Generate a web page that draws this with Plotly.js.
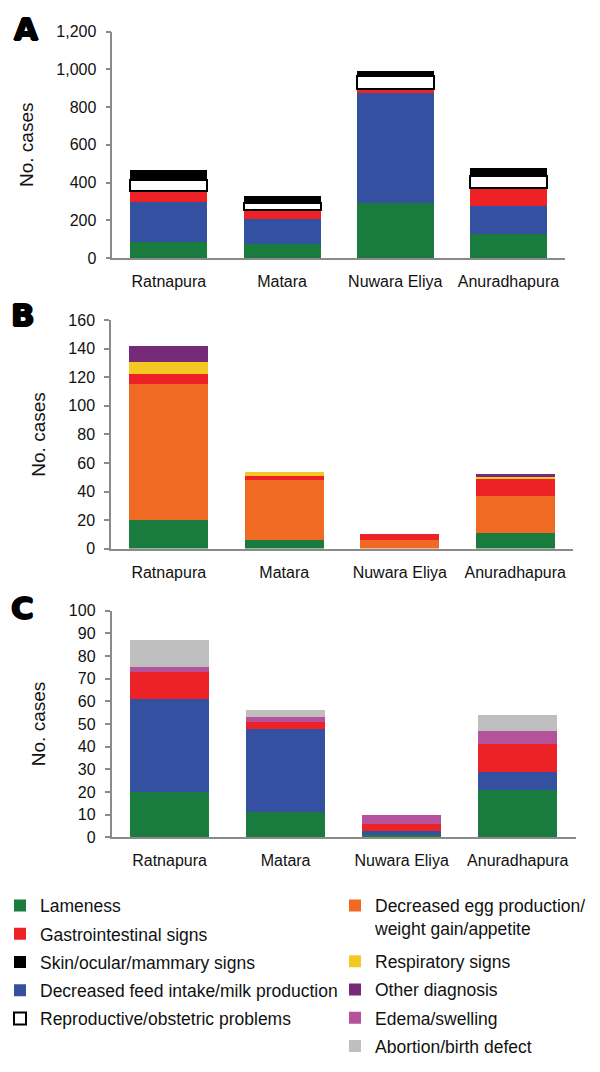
<!DOCTYPE html>
<html>
<head>
<meta charset="utf-8">
<script src="https://cdn.plot.ly/plotly-3.0.1.min.js"></script>
<style>html,body{margin:0;padding:0;background:#fff;}#chart{width:600px;height:1072px;}</style>
</head>
<body>
<div id="chart"></div>
<script>
// ---------- data ----------
const districts = ['Ratnapura', 'Matara', 'Nuwara Eliya', 'Anuradhapura'];

// Panel A
const aLameness     = [87, 73, 292, 129];
const aFeedMilk     = [209, 134, 585, 144];
const aGastro       = [61, 45, 21, 97];
const aReproductive = [57, 40, 66, 65];
const aSkin         = [54, 38, 26, 43];

// Panel B
const bLameness    = [20, 6, 0, 11];
const bEggWeight   = [95, 42, 6, 26];
const bGastro      = [7, 3, 4, 12];
const bRespiratory = [9, 3, 0, 1];
const bOther       = [11, 0, 0, 2];

// Panel C
const cLameness = [20, 11, 1, 21];
const cFeedMilk = [41, 37, 2, 8];
const cGastro   = [12, 3, 3, 12];
const cEdema    = [2, 2, 4, 6];
const cAbortion = [12, 3, 0, 7];

const panelLetters = ['A', 'B', 'C'];

const labels = {
  lame: 'Lameness',
  gi: 'Gastrointestinal signs',
  skin: 'Skin/ocular/mammary signs',
  feed: 'Decreased feed intake/milk production',
  repro: 'Reproductive/obstetric problems',
  egg: 'Decreased egg production/<br>weight gain/appetite',
  resp: 'Respiratory signs',
  other: 'Other diagnosis',
  edema: 'Edema/swelling',
  abort: 'Abortion/birth defect'
};
const colors = {
  lame: '#1a7b3f', gi: '#ec2227', skin: '#000000', feed: '#3450a1', repro: '#ffffff',
  egg: '#f16a24', resp: '#f5c924', other: '#762a78', edema: '#b4529c', abort: '#bfbfbf'
};

// ---------- traces ----------
function bar(key, y, xa, ya, legend, show, rank) {
  const t = {
    type: 'bar', x: districts, y: y, name: labels[key],
    xaxis: xa, yaxis: ya, legendgroup: key, legend: legend,
    showlegend: show, legendrank: rank,
    marker: {color: colors[key], line: {width: 0}},
    hovertemplate: '%{x}: %{y}<extra>' + labels[key].replace('<br>', ' ') + '</extra>'
  };
  if (key === 'repro') t.marker.line = {width: 2, color: '#000000'};
  return t;
}

const data = [
  bar('lame', aLameness, 'x', 'y', 'legend', true, 1),
  bar('feed', aFeedMilk, 'x', 'y', 'legend', true, 4),
  bar('gi', aGastro, 'x', 'y', 'legend', true, 2),
  bar('repro', aReproductive, 'x', 'y', 'legend', true, 5),
  bar('skin', aSkin, 'x', 'y', 'legend', true, 3),

  bar('lame', bLameness, 'x2', 'y2', 'legend', false, 1),
  bar('egg', bEggWeight, 'x2', 'y2', 'legend2', true, 1),
  bar('gi', bGastro, 'x2', 'y2', 'legend', false, 2),
  bar('resp', bRespiratory, 'x2', 'y2', 'legend3', true, 1),
  bar('other', bOther, 'x2', 'y2', 'legend3', true, 2),

  bar('lame', cLameness, 'x3', 'y3', 'legend', false, 1),
  bar('feed', cFeedMilk, 'x3', 'y3', 'legend', false, 4),
  bar('gi', cGastro, 'x3', 'y3', 'legend', false, 2),
  bar('edema', cEdema, 'x3', 'y3', 'legend3', true, 3),
  bar('abort', cAbortion, 'x3', 'y3', 'legend3', true, 4)
];

// ---------- layout ----------
const W = 600, H = 1072;
const px = v => v / W;
const py = v => 1 - v / H;
const FONT = '"Liberation Sans", Arial, Helvetica, sans-serif';
const axisColor = '#8a8a8a';

function xax(x0, x1) {
  return {
    domain: [px(x0), px(x1)],
    type: 'category', range: [-0.5, 3.5],
    showline: true, linecolor: axisColor, linewidth: 1.5,
    ticks: '', showgrid: false, zeroline: false,
    tickfont: {family: FONT, size: 16, color: '#111'},
    ticklabelstandoff: 8, fixedrange: true
  };
}
function yax(y0, y1, top, dtick, fmt) {
  return {
    domain: [py(y1), py(y0)], range: [0, top], dtick: dtick, tickformat: fmt,
    showline: true, linecolor: axisColor, linewidth: 1.5,
    ticks: 'outside', ticklen: 5, tickcolor: axisColor, tickwidth: 1.5,
    showgrid: false, zeroline: false,
    tickfont: {family: FONT, size: 16, color: '#111'},
    ticklabelstandoff: 6,
    title: {text: 'No. cases', font: {family: FONT, size: 19, color: '#111'}, standoff: 18},
    automargin: true, fixedrange: true
  };
}

const legendBase = {
  orientation: 'v', xanchor: 'left', yanchor: 'top',
  font: {family: FONT, size: 17.5, color: '#111'},
  bgcolor: 'rgba(0,0,0,0)', borderwidth: 0,
  traceorder: 'grouped', tracegroupgap: 2.5, valign: 'top'
};

const letterFont = {
  family: 'DejaVu Sans', size: 31, weight: 'bold', color: '#000',
  shadow: '0.9px 0 0 #000, -0.9px 0 0 #000, 0 0.9px 0 #000, 0 -0.9px 0 #000'
};
const letterPos = [[26, 21], [23, 312], [22.5, 610]];

const layout = {
  width: W, height: H,
  margin: {l: 0, r: 0, t: 0, b: 0, pad: 0},
  paper_bgcolor: '#ffffff', plot_bgcolor: '#ffffff',
  barmode: 'stack', bargap: 0.32,
  font: {family: FONT, color: '#111'},
  xaxis: Object.assign(xax(112.3, 565), {anchor: 'y'}),
  yaxis: Object.assign(yax(24, 254, 1200, 200, ',d'), {anchor: 'x'}),
  xaxis2: Object.assign(xax(111, 573), {anchor: 'y2'}),
  yaxis2: Object.assign(yax(317.3, 549.3, 160, 20, 'd'), {anchor: 'x2'}),
  xaxis3: Object.assign(xax(111.5, 575.8), {anchor: 'y3'}),
  yaxis3: Object.assign(yax(612.3, 842.7, 100, 10, 'd'), {anchor: 'x3'}),
  legend: Object.assign({}, legendBase, {x: px(0), y: py(893.8)}),
  legend2: Object.assign({}, legendBase, {x: px(335), y: py(893.8)}),
  legend3: Object.assign({}, legendBase, {x: px(335), y: py(950.4)}),
  annotations: panelLetters.map((t, i) => ({
    text: t, x: px(letterPos[i][0]), y: py(letterPos[i][1]),
    xref: 'paper', yref: 'paper', xanchor: 'center', yanchor: 'middle',
    showarrow: false, font: letterFont
  })),
  showlegend: true
};

Plotly.newPlot('chart', data, layout, {displayModeBar: false, responsive: false});
</script>
</body>
</html>
